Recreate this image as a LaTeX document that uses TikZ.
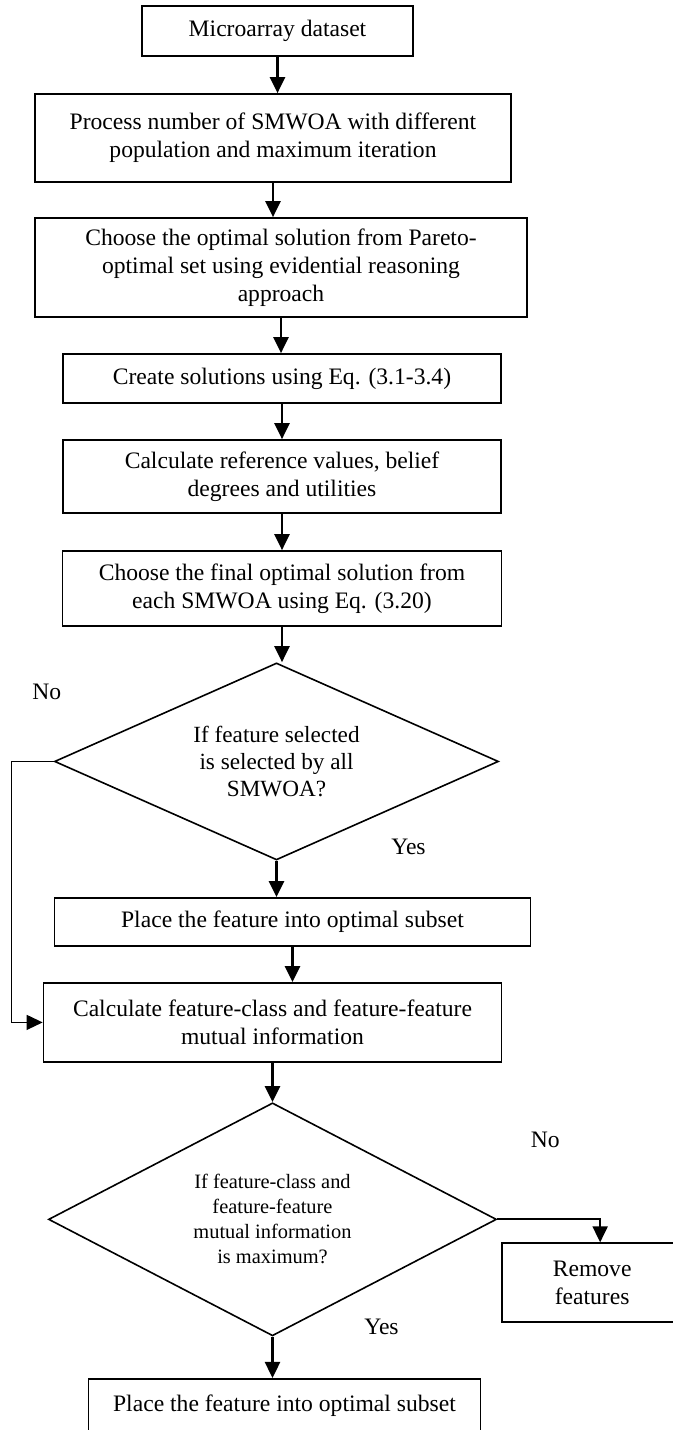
\documentclass[tikz,border=0pt]{standalone}
\usepackage{fontspec}
\setmainfont{Liberation Serif}
\usetikzlibrary{positioning, arrows.meta, shapes.geometric, calc}
\tikzset{
  procbox/.style={
    draw, line width=0.85pt,
    align=center,
    inner sep=2pt,
    font=\fontsize{11.8}{14}\selectfont
  },
  decbox/.style={
    diamond, draw, line width=0.8pt,
    align=center,
    inner sep=0pt,
    aspect=2.25,
    font=\fontsize{11.6}{13.5}\selectfont
  },
  flow/.style={
    -{Triangle[length=8pt,width=7.5pt]},
    line width=1.3pt
  },
  loopback/.style={
    -{Triangle[length=8pt,width=7.5pt]},
    line width=0.6pt
  },
  lbl/.style={
    font=\fontsize{11.8}{14}\selectfont,
    inner sep=0pt
  }
}

\begin{document}
\begin{tikzpicture}
  \useasboundingbox (0,0) rectangle (336.5pt,-715pt);

  \node[procbox, minimum width=135.5pt, minimum height=25pt] (data) at (138.75pt,-15.5pt) {Microarray dataset};
  \node[procbox, minimum width=238pt, minimum height=44pt, below=18.15pt of data, xshift=-2.25pt] (runs)
    {Process number of SMWOA with different\\population and maximum iteration};
  \node[procbox, minimum width=246pt, minimum height=49.5pt, below=17.15pt of runs, xshift=4pt] (pareto)
    {Choose the optimal solution from Pareto-\\optimal set using evidential reasoning\\approach};
  \node[procbox, minimum width=219pt, minimum height=24.5pt, below=17.65pt of pareto, xshift=0.5pt] (create)
    {Create solutions using Eq. (3.1-3.4)};
  \node[procbox, minimum width=219pt, minimum height=36.5pt, below=17.65pt of create] (belief)
    {Calculate reference values, belief\\degrees and utilities};
  \node[procbox, minimum width=219.5pt, minimum height=37.5pt, below=18.15pt of belief] (final)
    {Choose the final optimal solution from\\each SMWOA using Eq. (3.20)};
  \node[decbox, minimum width=222pt, minimum height=98.5pt, below=17.65pt of final, xshift=-2.75pt] (allsel)
    {If feature selected\\is selected by all\\SMWOA?};
  \node[procbox, minimum width=238pt, minimum height=24pt, below=18.15pt of allsel, xshift=8pt] (place1)
    {Place the feature into optimal subset};
  \node[procbox, minimum width=229pt, minimum height=39.5pt, below=17.65pt of place1, xshift=-10pt] (mutinf)
    {Calculate feature-class and feature-feature\\mutual information};
  \node[decbox, minimum width=224pt, minimum height=116.5pt, below=19.65pt of mutinf, font=\fontsize{10.2}{12.5}\selectfont] (maxmi)
    {If feature-class and\\feature-feature\\mutual information\\is maximum?};
  \node[procbox, minimum width=196pt, minimum height=27pt, below=20.65pt of maxmi, xshift=6pt] (place2)
    {Place the feature into optimal subset};
  \node[procbox, minimum width=90pt, minimum height=39.5pt, below right=11.5pt and 2pt of maxmi.east] (remove)
    {Remove\\features};

  % labels of the two decisions
  \node[lbl] (no1) at ($(allsel.west)+(-3.5pt,35pt)$) {No};
  \node[lbl] (yes1) at ($(allsel.south)+(66pt,7pt)$) {Yes};
  \node[lbl] (no2) at ($(maxmi.east)+(24pt,39.5pt)$) {No};
  \node[lbl] (yes2) at ($(maxmi.south)+(54.5pt,5pt)$) {Yes};

  \draw[flow] (data) -- (data.south |- runs.north);
  \draw[flow] (runs) -- (runs.south |- pareto.north);
  \draw[flow] (pareto) -- (pareto.south |- create.north);
  \draw[flow] (create) -- (create.south |- belief.north);
  \draw[flow] (belief) -- (belief.south |- final.north);
  \draw[flow] (final) -- (final.south |- allsel.north);
  \draw[flow] (allsel) -- (allsel.south |- place1.north);
  \draw[flow] (place1) -- (place1.south |- mutinf.north);
  \draw[flow] (mutinf) -- (mutinf.south |- maxmi.north);
  \draw[flow] (maxmi) -- (maxmi.south |- place2.north);
  \draw[loopback] (allsel.west) -- ++(-21pt,0) |- (mutinf.west);
  \draw[flow, line width=1pt] (maxmi.east) -| ([xshift=4pt]remove.north);
\end{tikzpicture}
\end{document}
